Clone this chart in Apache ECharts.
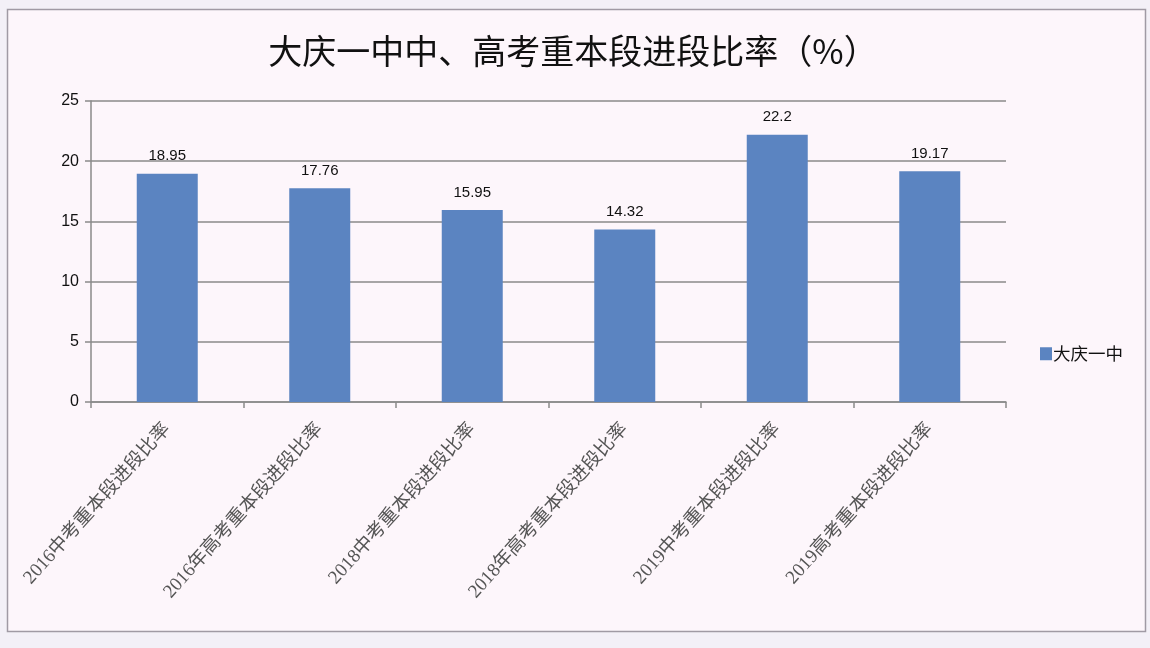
<!DOCTYPE html>
<html>
<head>
<meta charset="utf-8">
<script src="https://cdn.jsdelivr.net/npm/echarts@6/dist/echarts.min.js"></script>
<style>html,body{margin:0;padding:0;background:#f3f0f7;}#c{width:1150px;height:648px;}</style>
</head>
<body>
<div id="c"></div>
<script>
const titleText = '大庆一中中、高考重本段进段比率（%）';
const seriesName = '大庆一中';
const categories = ['2016中考重本段进段比率','2016年高考重本段进段比率','2018中考重本段进段比率','2018年高考重本段进段比率','2019中考重本段进段比率','2019高考重本段进段比率'];
const values = [18.95, 17.76, 15.95, 14.32, 22.2, 19.17];
const valueLabels = ['18.95','17.76','15.95','14.32','22.2','19.17'];
const yTicks = [0, 5, 10, 15, 20, 25];

const chart = echarts.init(document.getElementById('c'));
chart.setOption({
  backgroundColor: '#f3f0f7',
  animation: false,
  graphic: [{
    type: 'rect', z: -10, silent: true,
    shape: {x: 7.5, y: 9.5, width: 1138, height: 622},
    style: {fill: '#fdf6fb', stroke: '#a09aa4', lineWidth: 1.5}
  }],
  title: {
    text: titleText, left: 568, top: 29, textAlign: 'center',
    textStyle: {fontFamily: 'Noto Sans CJK SC', fontSize: 34, fontWeight: 'normal', color: '#111'}
  },
  legend: {
    data: [seriesName], left: 1035, top: 340, orient: 'vertical',
    icon: 'rect', itemWidth: 12, itemHeight: 13, itemGap: 4,
    textStyle: {fontFamily: 'Noto Sans CJK SC', fontSize: 17.5, color: '#111', padding: [0,0,0,-4]}
  },
  grid: {left: 91, right: 144, top: 101, bottom: 246},
  xAxis: {
    type: 'category', data: categories,
    axisLine: {lineStyle: {color: '#8a8a8a', width: 1.5}},
    axisTick: {show: true, length: 6, alignWithLabel: false, lineStyle: {color: '#8a8a8a', width: 1.5}},
    axisLabel: {rotate: 48, interval: 0, margin: 24, fontFamily: 'Liberation Serif, Noto Sans CJK SC', fontSize: 19, color: '#555'}
  },
  yAxis: {
    type: 'value', min: 0, max: 25, interval: 5,
    axisLine: {show: true, lineStyle: {color: '#8a8a8a', width: 1.5}},
    axisTick: {show: true, length: 6, lineStyle: {color: '#8a8a8a', width: 1.5}},
    axisLabel: {margin: 12, fontFamily: 'Liberation Sans', fontSize: 16, color: '#111',
      formatter: v => yTicks.includes(v) ? String(v) : ''},
    splitLine: {lineStyle: {color: '#8a8a8a', width: 1.5}}
  },
  series: [{
    name: seriesName, type: 'bar', data: values, barWidth: '40%',
    itemStyle: {color: '#5b84c1'},
    label: {show: true, position: 'top', distance: 10, fontFamily: 'Liberation Sans', fontSize: 15, color: '#111',
      formatter: p => valueLabels[p.dataIndex]}
  }]
});
</script>
</body>
</html>
